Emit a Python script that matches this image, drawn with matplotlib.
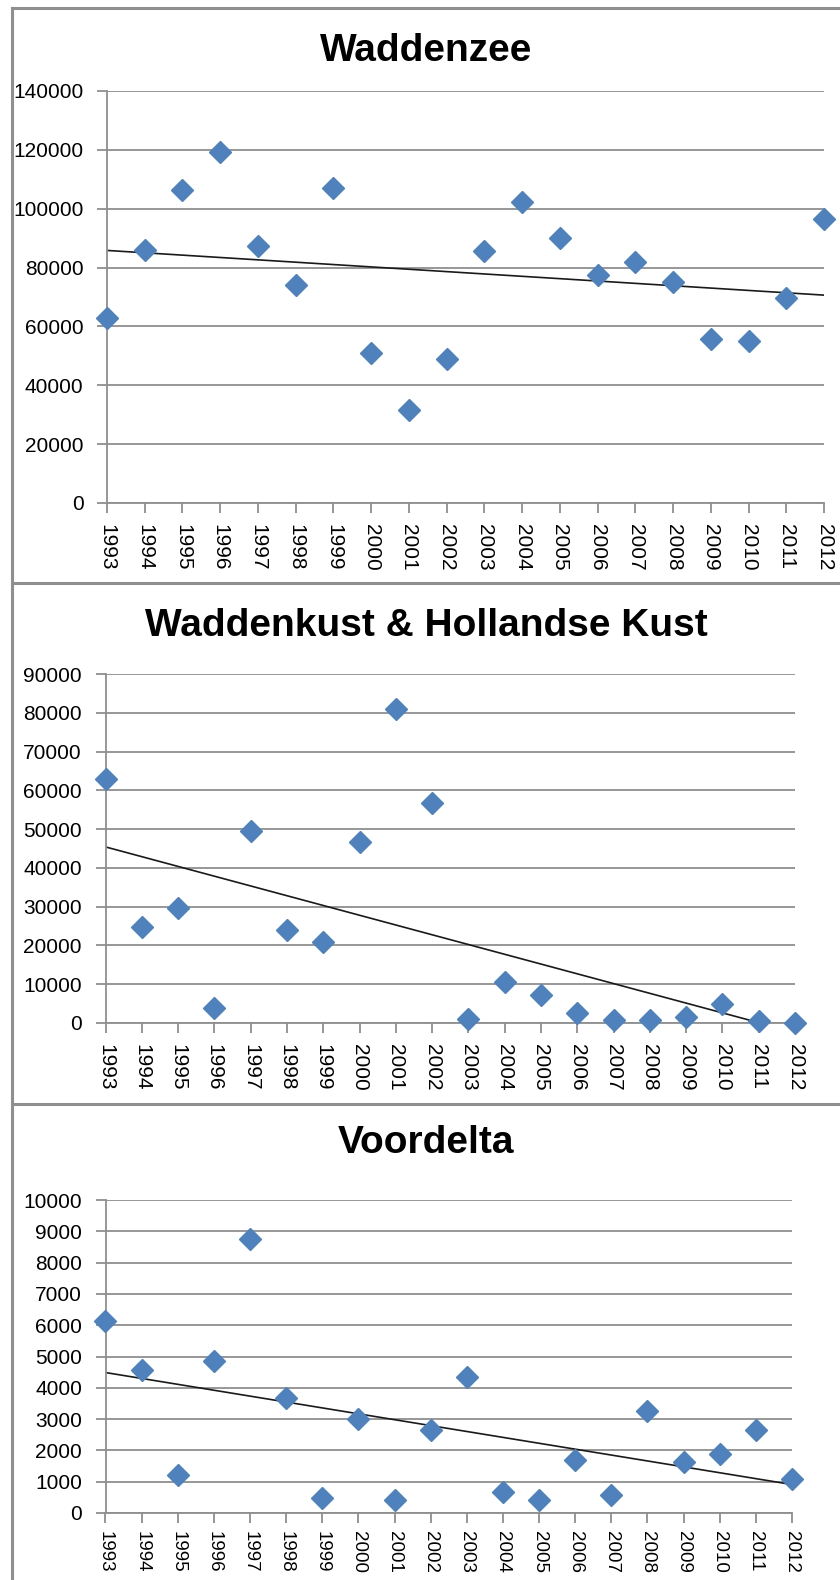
import numpy as np
import matplotlib.pyplot as plt
from matplotlib.lines import Line2D

years = list(range(1993, 2013))

# values
waddenzee = [63000, 86000, 106400, 119400, 87300, 74000, 107100, 51100, 31500, 49100,
             85800, 102200, 90100, 77500, 81900, 75200, 55600, 55200, 69600, 96600]
waddenkust = [62900, 24800, 29700, 3900, 49400, 24100, 20900, 46700, 80900, 56800,
              1000, 10500, 7300, 2700, 650, 650, 1600, 4900, 400, 100]
voordelta = [6130, 4560, 1210, 4870, 8750, 3690, 480, 3010, 410, 2650,
             4330, 670, 410, 1700, 570, 3260, 1630, 1900, 2650, 1090]

titles = ['Waddenzee', 'Waddenkust & Hollandse Kust', 'Voordelta']
ymax = [140000, 90000, 10000]
ystep = [20000, 10000, 1000]

W, H = 840, 1580
fig = plt.figure(figsize=(W / 100, H / 100), dpi=100)

# axes boxes in pixels: left, right, top, bottom
boxes = [(107, 824, 91, 503), (105.5, 795, 674, 1023), (105.5, 792, 1200, 1513)]
title_y = [51, 626, 1143]
xlab_size = [15, 15, 13.5]
xlab_pad = [8, 8, 6]

grey = '#8f8f8f'
tickfont = ['Liberation Sans', 'DejaVu Sans']
titlefont = ['Liberation Sans', 'DejaVu Sans']

for i, vals in enumerate([waddenzee, waddenkust, voordelta]):
    l, r, t, b = boxes[i]
    ax = fig.add_axes([l / W, 1 - b / H, (r - l) / W, (b - t) / H])
    ax.set_xlim(1993, 2012)
    ax.set_ylim(0, ymax[i])
    ax.set_yticks(np.arange(0, ymax[i] + 1, ystep[i]))
    ax.set_xticks(years)
    ax.grid(axis='y', color=grey, lw=1.3)
    ax.set_axisbelow(True)
    for s in ['top', 'right']:
        ax.spines[s].set_visible(False)
    for s in ['left', 'bottom']:
        ax.spines[s].set_color(grey)
        ax.spines[s].set_linewidth(1.3)
    ax.tick_params(axis='both', color=grey, length=7, width=1.3)
    ax.tick_params(axis='y', pad=10, labelsize=15)
    ax.tick_params(axis='x', pad=xlab_pad[i], labelsize=xlab_size[i])
    ax.set_xticklabels([str(y) for y in years], rotation=-90, family=tickfont)
    ax.set_yticklabels([str(v) for v in ax.get_yticks().astype(int)], family=tickfont)
    ax.plot(years, vals, 'D', color='#4f81bd', ms=11, mec='#4f81bd', clip_on=False, zorder=3)
    # linear trendline
    k, c = np.polyfit(years, vals, 1)
    xs = np.array([1993, 2012])
    ax.plot(xs, k * xs + c, color='#1a1a1a', lw=1.2, zorder=2)
    fig.text(426 / W, 1 - title_y[i] / H, titles[i], ha='center', va='center',
             fontsize=28, fontweight='bold', family=titlefont)

# panel borders
def hline(y, x0=11.5, x1=W):
    fig.add_artist(Line2D([x0 / W, x1 / W], [1 - y / H, 1 - y / H], color=grey, lw=2.2))

hline(7.5)
hline(583)
hline(1104)
fig.add_artist(Line2D([11.5 / W, 11.5 / W], [1 - 7.5 / H, 0], color=grey, lw=2.2))

fig.savefig('out.png', dpi=100)
